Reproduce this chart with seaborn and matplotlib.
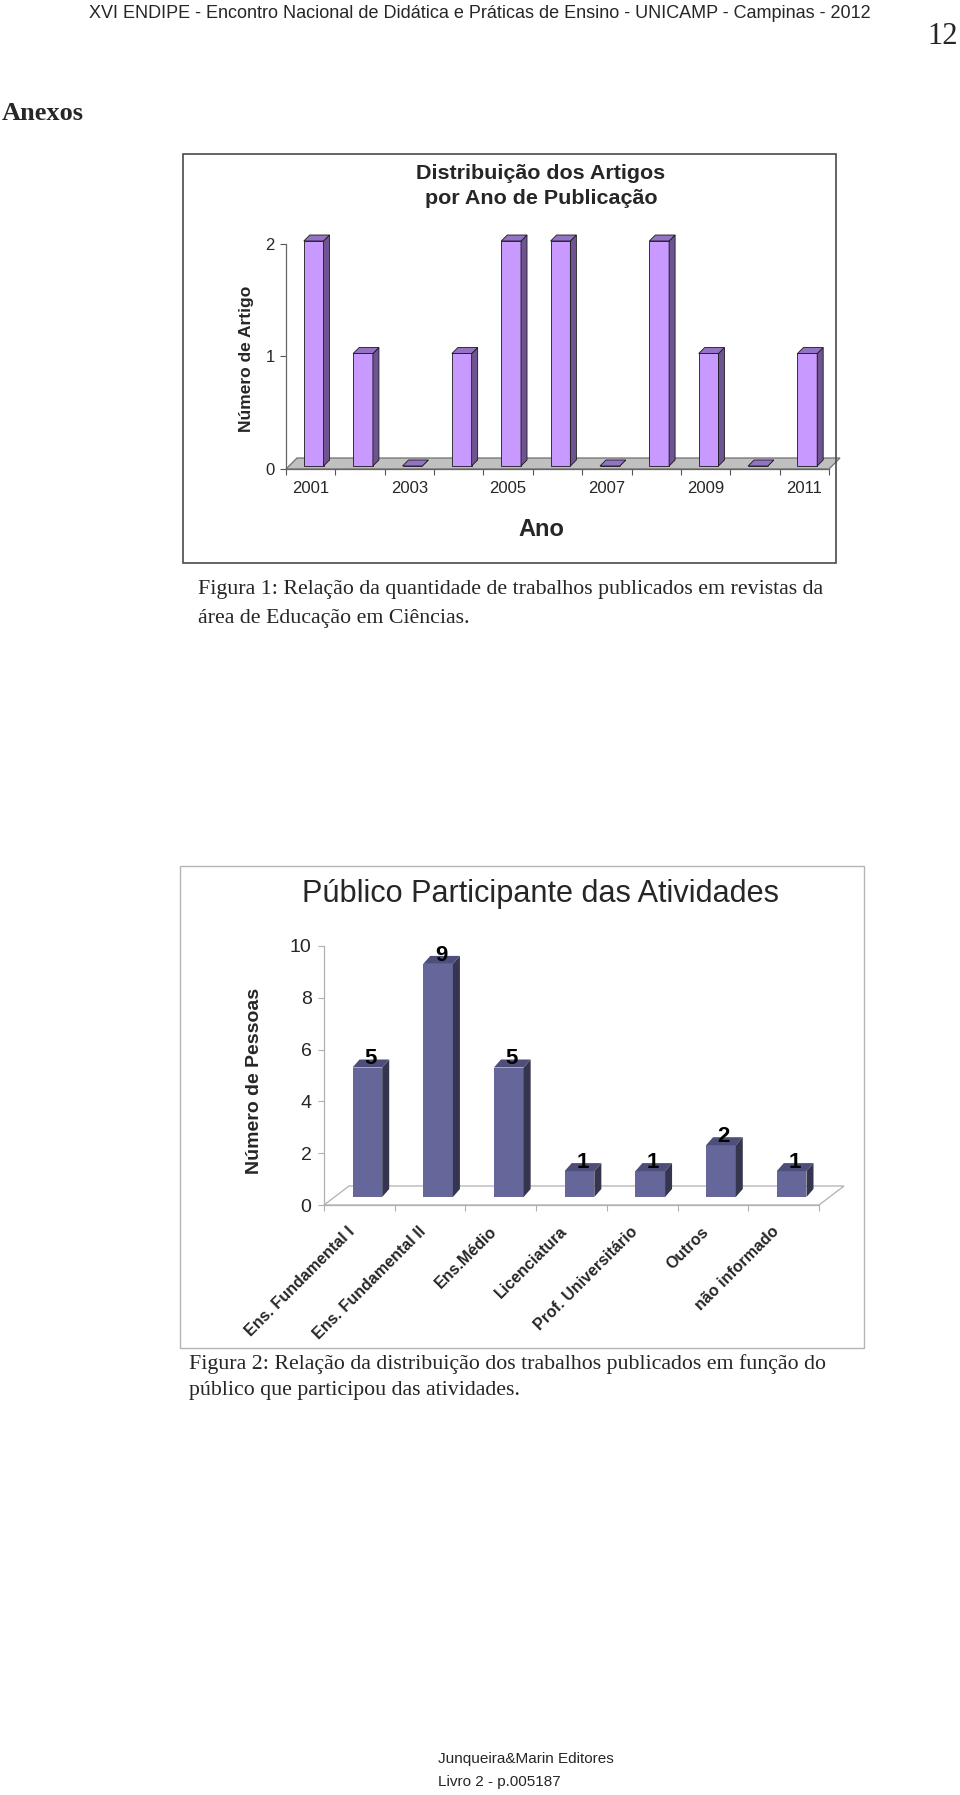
import numpy as np
import pandas as pd
import matplotlib; matplotlib.use('Agg')
import matplotlib.pyplot as plt
import seaborn as sns
from matplotlib.patches import Polygon, Rectangle
from matplotlib.transforms import ScaledTranslation, IdentityTransform

# ── Dados ─────────────────────────────────────────────────
anos = ['2001','2002','2003','2004','2005','2006','2007','2008','2009','2010','2011']
artigos = [2, 1, 0, 1, 2, 2, 0, 2, 1, 0, 1]
anos_rotulo = ['2001','','2003','','2005','','2007','','2009','','2011']

publico = ['Ens. Fundamental I', 'Ens. Fundamental II', 'Ens.Médio', 'Licenciatura',
           'Prof. Universitário', 'Outros', 'não informado']
pessoas = [5, 9, 5, 1, 1, 2, 1]

W, H = 960, 1795
sns.set_theme(style='white')
plt.rcParams['font.family'] = ['Liberation Sans', 'DejaVu Sans']
NARROW = ['Liberation Sans Narrow', 'DejaVu Sans Condensed', 'Liberation Sans']
SERIF = ['Liberation Serif', 'DejaVu Serif']

fig = plt.figure(figsize=(W/100, H/100), dpi=100)
fig.patch.set_facecolor('white')
rend = fig.canvas.get_renderer()

def fx(x): return x / W
def fy(y): return 1 - y / H
def eixo(l, t, r, b):
    return fig.add_axes([fx(l), fy(b), (r-l)/W, (b-t)/H])

def ajusta(t, largura):
    # ajusta o tamanho da fonte para a largura medida na página original
    w = t.get_window_extent(rend).width
    t.set_fontsize(t.get_fontsize() * largura / w)
    return t.get_fontsize()

def barras_3d(ax, cats, vals, cor, lado, topo, largura, desloc, prof, borda, lw):
    df = pd.DataFrame({'cat': cats, 'val': vals})
    sns.barplot(data=df, x='cat', y='val', color=cor, saturation=1, width=largura,
                edgecolor=borda, linewidth=lw, ax=ax, zorder=3)
    ax.set_xlim(-0.5, len(cats)-0.5)
    ox, oy = desloc; dx, dy = prof
    barras = [p for p in ax.patches if isinstance(p, Rectangle)]
    for p in barras:
        p.set_transform(ax.transData + ScaledTranslation(ox/100, oy/100, fig.dpi_scale_trans))
        p.set_clip_on(False)
        (x0, y0), (x1, y1) = ax.transData.transform(
            [(p.get_x(), p.get_y()), (p.get_x()+p.get_width(), p.get_y()+p.get_height())])
        x0 += ox; x1 += ox; y0 += oy; y1 += oy
        faces = [([(x1,y0),(x1+dx,y0+dy),(x1+dx,y1+dy),(x1,y1)], lado),
                 ([(x0,y1),(x1,y1),(x1+dx,y1+dy),(x0+dx,y1+dy)], topo)]
        for pts, c in faces:
            ax.add_artist(Polygon(pts, closed=True, fc=c, ec=borda, lw=lw,
                                  transform=IdentityTransform(), clip_on=False, zorder=3))
    return barras

def chao(ax, n, prof, fc, ec):
    (xa, ya), (xb, _) = ax.transData.transform([(-0.5, 0), (n-0.5, 0)])
    dx, dy = prof
    ax.add_artist(Polygon([(xa,ya),(xb,ya),(xb+dx,ya+dy),(xa+dx,ya+dy)], closed=True,
                          fc=fc, ec=ec, lw=0.9, transform=IdentityTransform(),
                          clip_on=False, zorder=2))

# ── Cabeçalho ─────────────────────────────────────────────
cab = fig.text(fx(480), fy(14), 'XVI ENDIPE - Encontro Nacional de Didática e Práticas de Ensino - UNICAMP - Campinas - 2012',
               ha='center', va='center', family=NARROW, fontsize=16)
ajusta(cab, 783)
fig.text(fx(958), fy(36), '12', ha='right', va='center', family=SERIF, fontsize=22)
fig.text(fx(2), fy(114), 'Anexos', ha='left', va='center', family=SERIF, fontsize=19, fontweight='bold')

# ── Figura 1 ──────────────────────────────────────────────
fig.add_artist(Rectangle((fx(183), fy(563)), (836-183)/W, (563-154)/H, transform=fig.transFigure,
                         fill=False, ec='#4a4a4a', lw=1.2))
tit1 = fig.text(fx(541), fy(186), 'Distribuição dos Artigos\npor Ano de Publicação', ha='center', va='center',
                family=NARROW, fontsize=15, fontweight='bold', linespacing=1.35)
ajusta(tit1, 250)

ax1 = eixo(286, 244, 829, 469)
ax1.set_xlim(-0.5, len(anos)-0.5); ax1.set_ylim(0, 2)
ax1.set_autoscale_on(False)
chao(ax1, len(anos), (11, 11), '#C0C0C0', '#707070')
barras_3d(ax1, anos, artigos, '#C899FF', '#6E5591', '#9373C4', 0.4, (3, 3), (6, 6), '#1a1a1a', 0.6)
ax1.set_xlim(-0.5, len(anos)-0.5); ax1.set_ylim(0, 2)
ax1.set_xticks(range(len(anos)), anos_rotulo)
ax1.set_xticks(np.arange(-0.5, len(anos)), minor=True)
ax1.set_yticks([0, 1, 2])
ax1.tick_params(axis='x', which='major', length=0, pad=9, labelsize=12)
ax1.tick_params(axis='x', which='minor', length=4, color='#555555', width=0.8, direction='out', bottom=True)
ax1.tick_params(axis='y', length=4, color='#555555', width=0.8, direction='out', left=True, pad=4, labelsize=12)
for t in ax1.get_xticklabels() + ax1.get_yticklabels():
    t.set_family(NARROW)
for s in ['top', 'right']:
    ax1.spines[s].set_visible(False)
for s in ['left', 'bottom']:
    ax1.spines[s].set_color('#666666'); ax1.spines[s].set_linewidth(0.9)
ax1.set_facecolor('none')
ax1.set_xlabel('Ano', family=NARROW, fontsize=17, fontweight='bold')
ax1.xaxis.set_label_coords(0.47, -0.27); ax1.xaxis.label.set_va('center')
ax1.set_ylabel('Número de Artigo', fontsize=12.5, fontweight='bold')
ax1.yaxis.set_label_coords(-0.073, 0.49); ax1.yaxis.label.set_va('center')

leg1 = fig.text(fx(198), fy(590), 'Figura 1: Relação da quantidade de trabalhos publicados em revistas da',
                ha='left', va='center', family=SERIF, fontsize=15)
tam_leg = ajusta(leg1, 628)
fig.text(fx(198), fy(618), 'área de Educação em Ciências.', ha='left', va='center', family=SERIF, fontsize=tam_leg)

# ── Figura 2 ──────────────────────────────────────────────
fig.add_artist(Rectangle((fx(180), fy(1348)), (864-180)/W, (1348-866)/H, transform=fig.transFigure,
                         fill=False, ec='#b5b5b5', lw=1.0))
tit2 = fig.text(fx(541), fy(894), 'Público Participante das Atividades', ha='center', va='center',
                family=NARROW, fontsize=23)
ajusta(tit2, 477)

ax2 = eixo(324, 946, 819, 1205)
ax2.set_xlim(-0.5, len(publico)-0.5); ax2.set_ylim(0, 10)
ax2.set_autoscale_on(False)
chao(ax2, len(publico), (25, 19), 'none', '#b0b0b0')
barras = barras_3d(ax2, publico, pessoas, '#656699', '#35354F', '#4E4E7A', 0.42, (8, 8), (7, 8), 'none', 0)
ax2.set_xlim(-0.5, len(publico)-0.5); ax2.set_ylim(0, 10)
for i, v in enumerate(pessoas):
    ax2.annotate(str(v), xy=(i, v), xytext=(11, 6), textcoords='offset pixels', ha='center',
                 va='bottom', family=NARROW, fontsize=16, fontweight='bold', color='black', zorder=5)
ax2.set_xticks(range(len(publico)), [''] * len(publico))
for i, rot in enumerate(publico):
    ax2.annotate(rot, xy=(i, 0), xytext=(-12, -19), textcoords='offset pixels', rotation=45,
                 rotation_mode='anchor', ha='right', va='top', fontsize=11.5, fontweight='bold',
                 annotation_clip=False)
ax2.set_xticks(np.arange(-0.5, len(publico)), minor=True)
ax2.set_yticks(range(0, 11, 2))
ax2.tick_params(axis='x', which='major', length=0)
ax2.tick_params(axis='x', which='minor', length=4, color='#b0b0b0', width=0.8, direction='out', bottom=True)
ax2.tick_params(axis='y', length=4, color='#b0b0b0', width=0.8, direction='out', left=True, pad=5, labelsize=14)
for t in ax2.get_yticklabels():
    t.set_family(NARROW)
for s in ['top', 'right']:
    ax2.spines[s].set_visible(False)
for s in ['left', 'bottom']:
    ax2.spines[s].set_color('#b0b0b0'); ax2.spines[s].set_linewidth(0.9)
ax2.set_facecolor('none')
ax2.set_xlabel('')
ax2.set_ylabel('Número de Pessoas', fontsize=14, fontweight='bold')
ax2.yaxis.set_label_coords(-0.14, 0.479); ax2.yaxis.label.set_va('center')

fig.text(fx(189), fy(1364), 'Figura 2: Relação da distribuição dos trabalhos publicados em função do',
         ha='left', va='center', family=SERIF, fontsize=tam_leg)
fig.text(fx(189), fy(1391), 'público que participou das atividades.', ha='left', va='center',
         family=SERIF, fontsize=tam_leg)

# ── Rodapé ────────────────────────────────────────────────
rod = fig.text(fx(438), fy(1759), 'Junqueira&Marin Editores', ha='left', va='center', family=NARROW, fontsize=12)
tam_rod = ajusta(rod, 176)
fig.text(fx(438), fy(1782), 'Livro 2 - p.005187', ha='left', va='center', family=NARROW, fontsize=tam_rod)

plt.savefig('out.png', dpi=100)
plt.close()
